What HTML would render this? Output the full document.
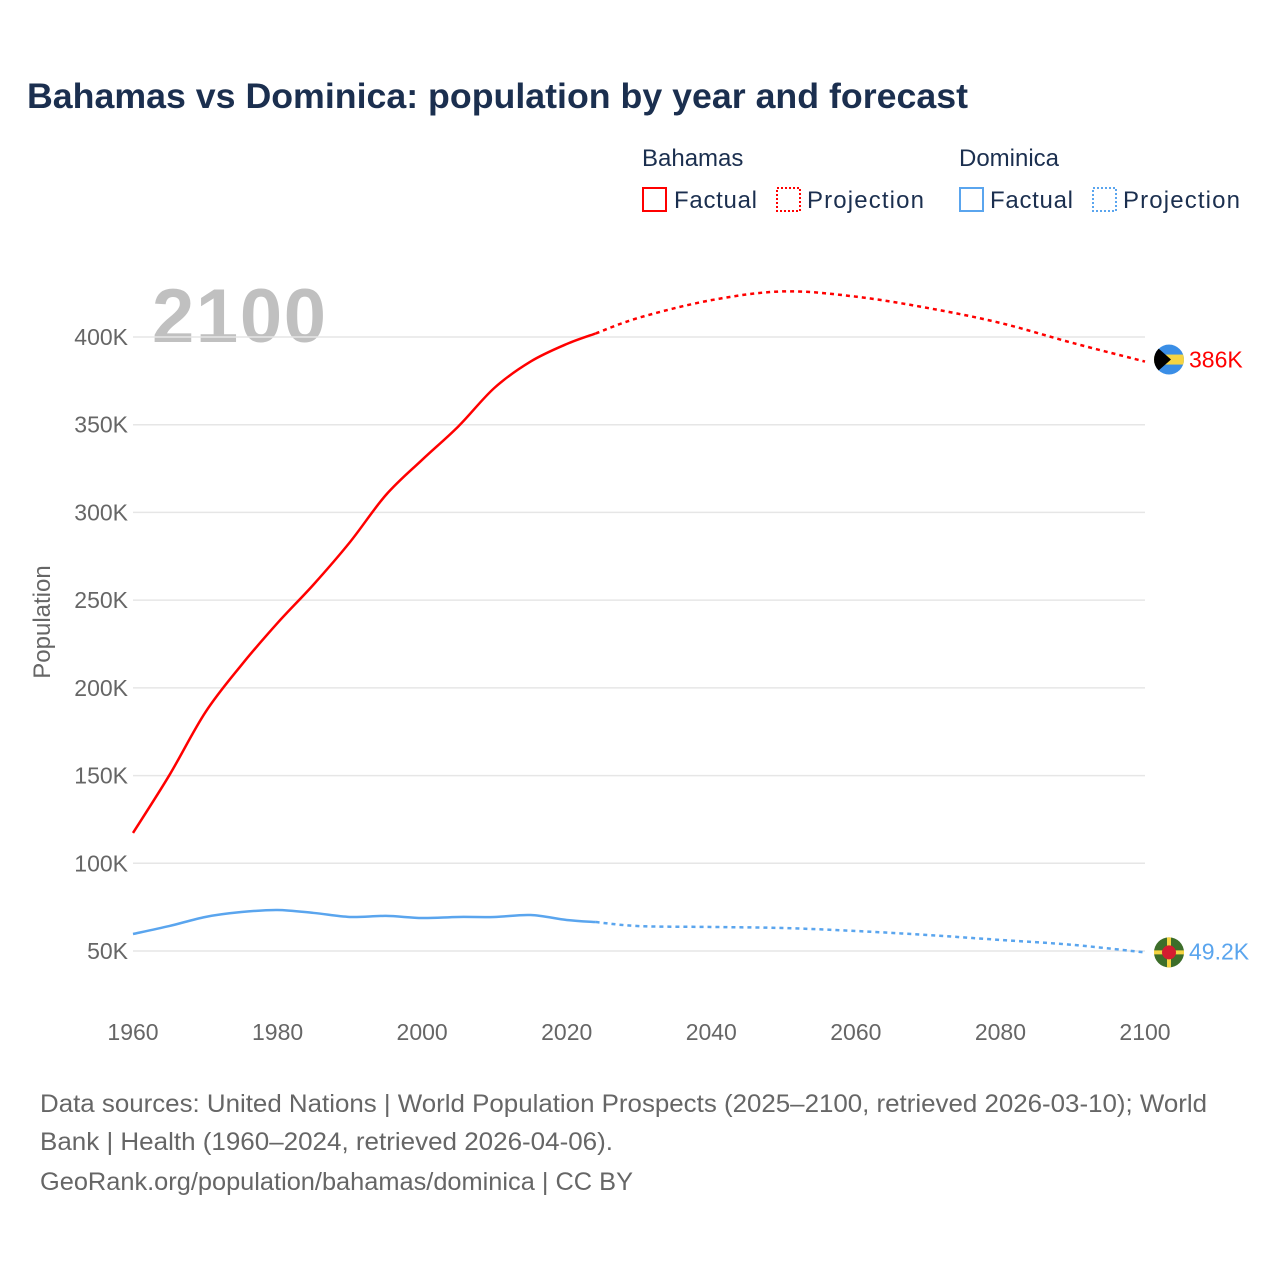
<!DOCTYPE html>
<html><head><meta charset="utf-8"><style>
body{margin:0;background:#fff;font-family:"Liberation Sans",sans-serif;}
svg text{font-family:"Liberation Sans",sans-serif;}
</style></head><body>
<svg id="chart" width="1280" height="1280">
<text x="27" y="108" font-size="35" font-weight="bold" fill="#1b2f4f" textLength="941" lengthAdjust="spacingAndGlyphs">Bahamas vs Dominica: population by year and forecast</text>
<g font-size="24" fill="#1b2f4f">
<text x="642" y="166">Bahamas</text>
<rect x="643" y="188" width="23" height="23" fill="none" stroke="#f00" stroke-width="2"/>
<text x="674" y="208" textLength="83">Factual</text>
<rect x="777" y="188" width="23" height="23" fill="none" stroke="#f00" stroke-width="2" stroke-dasharray="2,2"/>
<text x="807" y="208" textLength="117">Projection</text>
<text x="959" y="166">Dominica</text>
<rect x="960" y="188" width="23" height="23" fill="none" stroke="#5aa5ee" stroke-width="2"/>
<text x="990" y="208" textLength="83">Factual</text>
<rect x="1093" y="188" width="23" height="23" fill="none" stroke="#5aa5ee" stroke-width="2" stroke-dasharray="2,2"/>
<text x="1123" y="208" textLength="117">Projection</text>
</g>
<text x="152" y="342" font-size="76" font-weight="bold" fill="#c0c0c0" textLength="174">2100</text>
<g id="grid"></g><g id="series"></g>
<text transform="translate(50,622) rotate(-90)" text-anchor="middle" font-size="24" fill="#666">Population</text>
<g font-size="25" fill="#666">
<text x="40" y="1112" textLength="1167" lengthAdjust="spacingAndGlyphs">Data sources: United Nations | World Population Prospects (2025–2100, retrieved 2026-03-10); World</text>
<text x="40" y="1150" textLength="573" lengthAdjust="spacingAndGlyphs">Bank | Health (1960–2024, retrieved 2026-04-06).</text>
<text x="40" y="1190" textLength="593" lengthAdjust="spacingAndGlyphs">GeoRank.org/population/bahamas/dominica | CC BY</text>
</g>
</svg>
<script>
const yearsFact=[1960,1965,1970,1975,1980,1985,1990,1995,2000,2005,2010,2015,2020,2024];
const bahamasFact=[117300,150000,186000,213000,237000,259000,283000,310000,330000,349000,371000,386000,396000,402000];
const dominicaFact=[59700,64200,69400,72200,73400,71700,69400,70000,68800,69400,69400,70500,67700,66500];
const yearsProj=[2024,2030,2040,2050,2060,2070,2080,2090,2100];
const bahamasProj=[402000,411000,421000,426000,423000,416500,408000,396600,386000];
const dominicaProj=[66500,64200,63700,63100,61400,59100,56300,53500,49200];
const yTicks=[50000,100000,150000,200000,250000,300000,350000,400000];
const yTickLabels=["50K","100K","150K","200K","250K","300K","350K","400K"];
const xTicks=[1960,1980,2000,2020,2040,2060,2080,2100];
const NS="http://www.w3.org/2000/svg";
const X=y=>133+(y-1960)*(1012/140);
const Y=v=>951-(v-50000)*(614/350000);
function mk(t,a,p){const e=document.createElementNS(NS,t);for(const k in a)e.setAttribute(k,a[k]);p.appendChild(e);return e;}
const grid=document.getElementById('grid'),ser=document.getElementById('series');
yTicks.forEach((v,i)=>{
 const l=mk('line',{x1:133,x2:1145,y1:Y(v),y2:Y(v),stroke:'#e6e6e6','stroke-width':1.5},grid);
 
 
 const t=mk('text',{x:128,y:Y(v)+8,'text-anchor':'end','font-size':23,fill:'#666'},grid);
 t.textContent=yTickLabels[i];
 
 
});
xTicks.forEach(v=>{
 const t=mk('text',{x:X(v),y:1040,'text-anchor':'middle','font-size':23,fill:'#666'},grid);
 t.textContent=v;
 
 
});
function path(xs,vs){const p=xs.map((x,i)=>[X(x),Y(vs[i])]);let d='M'+p[0][0]+','+p[0][1];
 for(let i=0;i<p.length-1;i++){const p0=p[Math.max(0,i-1)],p1=p[i],p2=p[i+1],p3=p[Math.min(p.length-1,i+2)];
 d+=` C${p1[0]+(p2[0]-p0[0])/6},${p1[1]+(p2[1]-p0[1])/6} ${p2[0]-(p3[0]-p1[0])/6},${p2[1]-(p3[1]-p1[1])/6} ${p2[0]},${p2[1]}`;}return d;}
function line(xs,vs,col,dash,name){const e=mk('path',{d:path(xs,vs),fill:'none',stroke:col,'stroke-width':2.5},ser);if(dash)e.setAttribute('stroke-dasharray','4,4');
 
 }
line(yearsFact,bahamasFact,'#f00',false,'bahamas-factual-line');
line(yearsProj,bahamasProj,'#f00',true,'bahamas-projection-line');
line(yearsFact,dominicaFact,'#5aa5ee',false,'dominica-factual-line');
line(yearsProj,dominicaProj,'#5aa5ee',true,'dominica-projection-line');
const bx=X(2100)+24,by=Y(bahamasProj[bahamasProj.length-1])-2;
const g1=mk('g',{},ser);


const cp=mk('clipPath',{id:'c1'},g1);
mk('circle',{cx:bx,cy:by,r:15},cp);
const gg=mk('g',{'clip-path':'url(#c1)'},g1);
mk('rect',{x:bx-15,y:by-15,width:30,height:30,fill:'#3a8ee6'},gg);
mk('rect',{x:bx-15,y:by-5,width:30,height:10,fill:'#f5d442'},gg);
mk('polygon',{points:`${bx-15},${by-15} ${bx+2},${by} ${bx-15},${by+15}`,fill:'#000'},gg);
const dx=bx,dy=Y(dominicaProj[dominicaProj.length-1]);
const g2=mk('g',{},ser);


mk('circle',{cx:dx,cy:dy,r:15,fill:'#3d6e2a'},g2);
mk('line',{x1:dx-15,x2:dx+15,y1:dy,y2:dy,stroke:'#f5d442','stroke-width':4},g2);
mk('line',{x1:dx,x2:dx,y1:dy-15,y2:dy+15,stroke:'#f5d442','stroke-width':4},g2);
mk('circle',{cx:dx,cy:dy,r:7,fill:'#d41c30'},g2);
const l1=mk('text',{x:bx+20,y:by+8,'font-size':23,fill:'#f00'},ser);l1.textContent='386K';


const l2=mk('text',{x:dx+20,y:dy+7,'font-size':23,fill:'#5aa5ee'},ser);l2.textContent='49.2K';


</script>
</body></html>
